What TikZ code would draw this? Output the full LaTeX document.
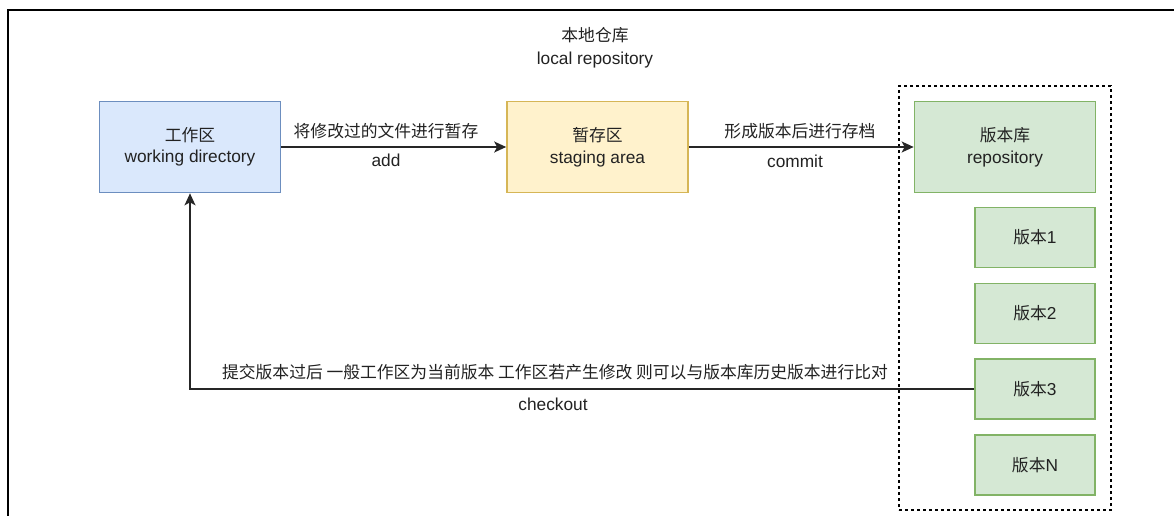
\documentclass[tikz,border=0pt]{standalone}
\usepackage{fontspec}
\setmainfont{Liberation Sans}
\newfontfamily\cjk{Noto Sans CJK SC}[Scale=0.97]
\usetikzlibrary{arrows.meta}
\definecolor{bluef}{HTML}{DAE8FC}
\definecolor{blued}{HTML}{6C8EBF}
\definecolor{yelf}{HTML}{FFF2CC}
\definecolor{yeld}{HTML}{D6B656}
\definecolor{grnf}{HTML}{D5E8D4}
\definecolor{grnd}{HTML}{82B366}
\definecolor{txt}{HTML}{222222}
\tikzset{
  box/.style={draw, line width=1.7pt, minimum width=181pt, minimum height=91pt, align=center,
    font=\fontsize{17.3}{21.5}\selectfont, text=txt, inner sep=0pt},
  vbox/.style={draw=grnd, fill=grnf, line width=1.7pt, minimum width=120pt, minimum height=60pt,
    font=\fontsize{17.3}{21}\selectfont, text=txt, inner sep=0pt},
  lbl/.style={font=\fontsize{17.3}{21}\selectfont, text=txt, inner sep=0pt},
  conn/.style={line width=1.5pt, draw=black!85, -{Stealth[length=12pt,width=11pt,inset=3pt]}},
}
\begin{document}
\begin{tikzpicture}[x=1pt,y=-1pt]
\useasboundingbox (0,0) rectangle (1174,516);
\fill[white] (0,0) rectangle (1174,516);
% outer frame (top and left edges visible)
\draw[line width=2pt, black] (7.5,516) -- (7.5,10) -- (1174,10);
% title
\node[lbl, align=center, font=\fontsize{17.3}{23}\selectfont] (title) at (595,48) {{\cjk 本地仓库}\\local repository};
% dashed container
\node[draw=black, dashed, dash pattern=on 3pt off 3pt, line width=1.6pt, minimum width=212pt, minimum height=424pt, inner sep=0pt] (local) at (1005,298) {};
% main boxes
\node[box, fill=bluef, draw=blued] (wd) at (190,147) {{\cjk 工作区}\\working directory};
\node[box, fill=yelf, draw=yeld] (sa) at (597.5,147) {{\cjk 暂存区}\\staging area};
\node[box, fill=grnf, draw=grnd] (repo) at (1005,147) {{\cjk 版本库}\\repository};
% versions
\node[vbox] (v1) at (1035,237.5) {{\cjk 版本}1};
\node[vbox] (v2) at (1035,313.5) {{\cjk 版本}2};
\node[vbox] (v3) at (1035,389) {{\cjk 版本}3};
\node[vbox] (vn) at (1035,465) {{\cjk 版本}N};
% connectors
\draw[conn] (wd) -- (sa);
\draw[conn] (sa) -- (repo);
\draw[conn] (v3.west) -| (wd.south);
% labels
\node[lbl] (addc) at (386,131) {\cjk 将修改过的文件进行暂存};
\node[lbl] (add) at (386,160) {add};
\node[lbl] (comc) at (800,131) {\cjk 形成版本后进行存档};
\node[lbl] (com) at (795,161) {commit};
\node[lbl] (coc) at (555,372) {\cjk 提交版本过后 一般工作区为当前版本 工作区若产生修改 则可以与版本库历史版本进行比对};
\node[lbl] (co) at (553,404) {checkout};
\end{tikzpicture}
\end{document}
